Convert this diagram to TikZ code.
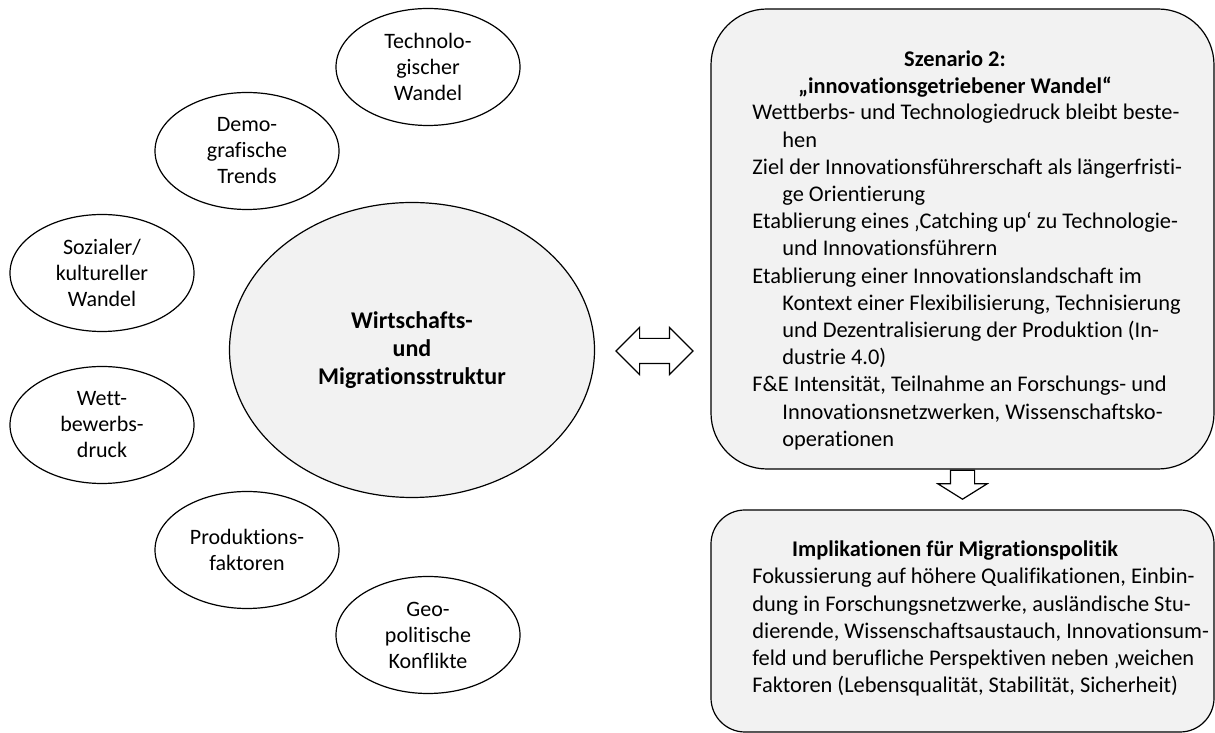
\documentclass[tikz,border=0pt]{standalone}
\usepackage{fontspec}
\setmainfont{Carlito}[Ligatures=NoCommon]
\usepackage{tkz-euclide}
\usetikzlibrary{shapes.geometric,shapes.arrows,positioning}
\definecolor{boxgray}{RGB}{242,242,242}
\tikzset{
  factor/.style={ellipse,draw,line width=0.6pt,inner sep=0pt,
    minimum width=92pt,minimum height=58.5pt,align=center,
    font=\fontsize{11}{13}\selectfont},
  core/.style={ellipse,draw,fill=boxgray,line width=0.6pt,inner sep=0pt,
    minimum width=182.5pt,minimum height=147.5pt,align=center,
    font=\bfseries\fontsize{12}{14}\selectfont},
  panel/.style={draw,fill=boxgray,line width=0.6pt,rounded corners=#1,
    inner sep=0pt},
  headtext/.style={inner sep=0pt,align=center,
    font=\bfseries\fontsize{11.2}{13.6}\selectfont},
  bodytext/.style={inner sep=0pt,align=left,
    font=\fontsize{11.2}{13.6}\selectfont},
  hollow/.style={draw,fill=white,line width=0.6pt,inner xsep=0pt}
}
\newcommand{\hang}{\hspace*{15pt}}

\begin{document}
\begin{tikzpicture}[x=0.5pt,y=0.5pt]
\useasboundingbox (0,0) rectangle (1215,733);
% centres of the factor ellipses
\tkzDefPoint(428,666){T}
\tkzDefPoint(247,582){D}
\tkzDefPoint(102,460){S}
\tkzDefPoint(102,308){W}
\tkzDefPoint(247,183){P}
\tkzDefPoint(428,98){G}
\tkzDefPoint(412,383){C}
\node[factor] (tech) at (T) {Technolo-\\gischer\\Wandel};
\node[factor] (demo) at (D) {Demo-\\grafische\\Trends};
\node[factor] (sozial) at (S) {Sozialer/\\kultureller\\Wandel};
\node[factor] (wett) at (W) {Wett-\\bewerbs-\\druck};
\node[factor] (prod) at (P) {Produktions-\\faktoren};
\node[factor] (geo) at (G) {Geo-\\politische\\Konflikte};
\node[core] (core) at (C) {Wirtschafts-\\und\\Migrationsstruktur};
% scenario panel and its text
\node[panel=28pt,minimum width=251.5pt,minimum height=230pt]
  (scenario) at (962.5,494) {};
\node[headtext,anchor=north] (sztitle) at (955,683)
  {Szenario 2:\\„innovationsgetriebener Wandel“};
\node[bodytext,anchor=north west] (szbody) at (752,629) {%
Wettberbs- und Technologiedruck bleibt beste-\\
\hang hen\\
Ziel der Innovationsführerschaft als längerfristi-\\
\hang ge Orientierung\\
Etablierung eines ‚Catching up‘ zu Technologie-\\
\hang und Innovationsführern\\
Etablierung einer Innovationslandschaft im\\
\hang Kontext einer Flexibilisierung, Technisierung\\
\hang und Dezentralisierung der Produktion (In-\\
\hang dustrie 4.0)\\
F\&E Intensität, Teilnahme an Forschungs- und\\
\hang Innovationsnetzwerken, Wissenschaftsko-\\
\hang operationen};
% implications panel
\node[panel=17pt,minimum width=251.5pt,minimum height=111pt]
  (implik) at (962.5,112) {};
\node[headtext,anchor=north] (imtitle) at (955,193)
  {Implikationen für Migrationspolitik};
\node[bodytext,anchor=north west] (imbody) at (752,165) {%
Fokussierung auf höhere Qualifikationen, Einbin-\\
dung in Forschungsnetzwerke, ausländische Stu-\\
dierende, Wissenschaftsaustauch, Innovationsum-\\
feld und berufliche Perspektiven neben ‚weichen\\
Faktoren (Lebensqualität, Stabilität, Sicherheit)};
% block arrows (shaft width = 2 x inner ysep)
\node[hollow,double arrow,inner ysep=6pt,double arrow head extend=5.5pt,
  minimum height=38.5pt] (link) at (654.5,382) {};
\node[hollow,single arrow,rotate=270,inner ysep=5.75pt,
  single arrow tip angle=116,single arrow head extend=6.25pt,
  minimum height=14.5pt,anchor=tail] (down) at (scenario.south) {};
\end{tikzpicture}
\end{document}
